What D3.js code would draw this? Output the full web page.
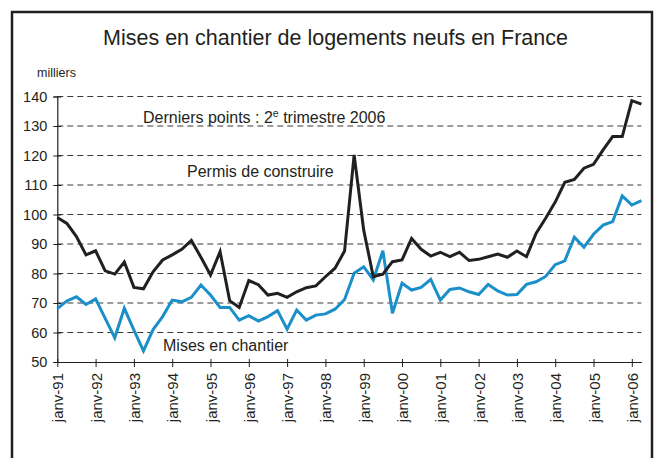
<!DOCTYPE html>
<html><head><meta charset="utf-8">
<script src="https://cdn.jsdelivr.net/npm/d3@7"></script>
<style>
html,body{margin:0;padding:0;background:#fff;}
svg{display:block;font-family:"Liberation Sans",Arial,Helvetica,sans-serif;}
</style></head>
<body><svg id="c" width="656" height="458"></svg>
<script>
const startYear = 1991;
const yearTicks = [1991,1992,1993,1994,1995,1996,1997,1998,1999,2000,2001,2002,2003,2004,2005,2006];
const yTicks = [50,60,70,80,90,100,110,120,130,140];
// quarterly values, 1991 T1 .. 2006 T2 (milliers)
const permis = [99.0,97.0,92.5,86.3,87.7,80.9,79.8,83.9,75.3,74.8,80.6,84.6,86.3,88.2,91.2,85.5,
  79.5,87.4,70.8,68.5,77.6,76.2,72.7,73.3,71.9,73.8,75.2,75.8,78.9,81.8,87.6,120.2,
  94.7,78.9,79.8,84.0,84.6,91.9,88.2,85.9,87.2,85.7,87.2,84.4,84.8,85.7,86.6,85.5,
  87.6,85.7,93.6,98.7,104.2,110.9,111.9,115.7,117.0,121.9,126.4,126.4,138.6,137.4];
const mises = [68.1,70.7,72.1,69.5,71.4,64.8,58.2,68.2,60.8,53.8,61.0,65.4,71.0,70.4,71.9,76.1,
  72.7,68.5,68.5,64.2,65.7,63.9,65.4,67.4,61.1,67.6,64.2,65.9,66.3,67.9,71.2,80.1,
  82.3,77.8,87.7,66.5,76.7,74.4,75.3,78.0,71.0,74.6,75.1,73.8,72.9,76.3,74.1,72.7,
  72.9,76.3,77.2,79.0,83.0,84.3,92.3,88.9,93.3,96.4,97.6,106.3,103.2,104.7];

const svg = d3.select("#c");
// frame
svg.append("rect").attr("x",12).attr("y",12).attr("width",640).attr("height",470)
  .attr("fill","none").attr("stroke","#231f20").attr("stroke-width",2.5);

const x = d3.scaleLinear().domain([1991, 2006.25]).range([57.3, 641.4]);
const y = d3.scaleLinear().domain([50, 140]).range([362, 96.5]);

// title
svg.append("text").attr("x",335.5).attr("y",45).attr("text-anchor","middle")
  .attr("font-size",21.5).attr("fill","#231f20").text("Mises en chantier de logements neufs en France");
svg.append("text").attr("x",37).attr("y",77).attr("font-size",12.5).attr("fill","#231f20").text("milliers");

// grid
svg.append("g").selectAll("line").data(yTicks.filter(d=>d>50)).join("line")
  .attr("x1",x(1991)).attr("x2",x(2006.25)).attr("y1",d=>y(d)).attr("y2",d=>y(d))
  .attr("stroke","#3a3a3a").attr("stroke-width",1).attr("stroke-dasharray","6,4");

// y axis
const ya = svg.append("g").attr("transform",`translate(${x(1991)},0)`)
  .call(d3.axisLeft(y).tickValues(yTicks).tickSize(4).tickPadding(6));
ya.select(".domain").attr("stroke","#231f20").attr("stroke-width",1.2);
ya.selectAll(".tick line").attr("stroke","#231f20").attr("x1",-4).attr("x2",4);
ya.selectAll(".tick text").attr("font-size",14.5).attr("fill","#231f20").attr("font-family","Liberation Sans, Arial, sans-serif");

// x axis
const xa = svg.append("g").attr("transform",`translate(0,${y(50)})`)
  .call(d3.axisBottom(x).tickValues(yearTicks).tickSize(5).tickSizeOuter(0)
    .tickFormat(d=>"janv-"+String(d%100).padStart(2,"0")));
xa.select(".domain").attr("stroke","#231f20").attr("stroke-width",1.2);
xa.selectAll(".tick line").attr("stroke","#231f20").attr("y1",-3);
xa.selectAll(".tick text").attr("font-size",15).attr("fill","#231f20")
  .attr("font-family","Liberation Sans, Arial, sans-serif")
  .attr("text-anchor","end").attr("dy",null).attr("y",0)
  .attr("transform","translate(0,11) rotate(-90)").attr("dominant-baseline","central");

const line = d3.line().x((d,i)=>x(startYear + i/4)).y(d=>y(d));
svg.append("path").datum(mises).attr("d",line).attr("fill","none")
  .attr("stroke","#1a8fc9").attr("stroke-width",3).attr("stroke-linejoin","miter");
svg.append("path").datum(permis).attr("d",line).attr("fill","none")
  .attr("stroke","#231f20").attr("stroke-width",3).attr("stroke-linejoin","miter");

// annotations
const t1 = svg.append("text").attr("x",143).attr("y",123).attr("font-size",16).attr("fill","#231f20");
t1.append("tspan").text("Derniers points : 2");
t1.append("tspan").attr("font-size",10.5).attr("dy",-6).text("e");
t1.append("tspan").attr("dy",6).text(" trimestre 2006");
svg.append("text").attr("x",187).attr("y",177).attr("font-size",16).attr("fill","#231f20").text("Permis de construire");
svg.append("text").attr("x",163).attr("y",351).attr("font-size",16).attr("fill","#231f20").text("Mises en chantier");
</script></body></html>
